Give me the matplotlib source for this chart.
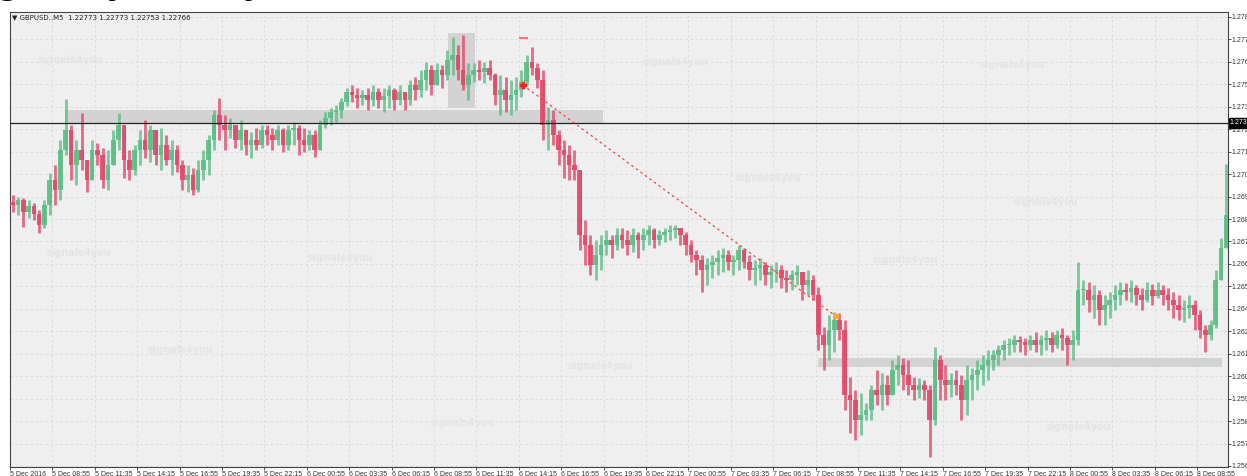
import numpy as np
import matplotlib
matplotlib.use("Agg")
import matplotlib.pyplot as plt

# GBPUSD M5 candles, aggregated (pips above 1.2500)
first_open = 187
highs = [190.5, 189.5, 189, 188, 186.5, 183, 188, 201.5, 205.5, 218, 238.5, 225.5, 218, 231.5, 208, 218, 216.5, 214, 213, 223,
         231.5, 215.5, 213, 215.5, 223, 228, 225.5, 220.5, 224, 220.5, 218, 215.5, 208, 205.5, 204, 208, 213, 220.5, 233, 239,
         230.5, 229, 225.5, 228, 223, 222, 224, 225.5, 225.5, 224, 225.5, 224, 225.5, 227, 225.5, 224, 223, 223, 228, 232,
         234, 235.5, 239, 244, 245.5, 244, 243, 244, 245.5, 244, 244, 245.5, 244, 245.5, 242, 248, 249.5, 253, 257, 255.5,
         256.5, 255.5, 263, 269.5, 265.5, 270.5, 256.5, 256.5, 258, 257, 258, 251.5, 250.5, 249.5, 248, 249.5, 253, 260.5, 264.5, 256.5,
         253, 234.5, 233, 223, 218, 215.5, 213, 203, 178, 170.5, 168, 170.5, 173, 170.5, 174, 174, 173, 174, 172, 174,
         175.5, 174, 173, 174, 175.5, 175.5, 174, 172, 168, 163, 160.5, 159, 160.5, 163, 164, 163, 160.5, 165.5, 164, 160.5,
         158, 159, 157, 155.5, 157, 155.5, 153, 153, 155.5, 152, 153, 150.5, 144.5, 124.5, 130.5, 132, 131.5, 128, 99.5, 93,
         91.5, 86.5, 95.5, 103, 101.5, 100.5, 108, 110.5, 109, 108, 99.5, 99, 98, 95.5, 114.5, 110.5, 105.5, 101.5, 103, 100.5,
         105.5, 104, 108, 110.5, 113, 113, 115.5, 118, 119, 120.5, 120, 119, 120.5, 122, 120.5, 123, 122, 123, 124, 120.5,
         123, 157, 148, 147, 145.5, 143, 140.5, 142, 145.5, 147, 146.5, 148, 145.5, 144, 147, 146, 147, 145.5, 144, 142,
         140.5, 138, 140.5, 138, 133, 125.5, 128, 153, 169, 206]
lows = [182, 180.5, 174.5, 179, 178, 171.5, 174, 180.5, 185.5, 188, 210.5, 198, 195.5, 203, 192, 199, 205.5, 194, 193, 205.5,
        213, 199, 198, 200.5, 205.5, 209, 207, 205.5, 203, 205.5, 200.5, 202, 193, 192, 190.5, 192, 198, 200.5, 213, 218,
        213, 219, 214, 213, 210.5, 209, 213, 214, 215.5, 213, 215.5, 212, 213, 215.5, 210.5, 212, 213, 209.5, 213, 224,
        225.5, 227, 229, 235, 237, 234, 235.5, 233, 235, 234, 232, 234, 233, 235.5, 233, 235.5, 238, 239.5, 243, 240.5,
        245.5, 244, 248, 250.5, 248, 243, 238, 247, 248, 246.5, 248, 235.5, 230.5, 232, 230.5, 233, 239.5, 245.5, 250.5, 244,
        218, 213, 215.5, 205.5, 199, 198, 198, 163, 155.5, 150.5, 148, 153, 160.5, 159, 163, 164, 160.5, 162, 159, 163,
        165.5, 164, 165.5, 167, 168, 169, 165.5, 160.5, 157, 150.5, 142, 145.5, 149, 150.5, 152, 153, 150.5, 153, 154, 148,
        145.5, 148, 145.5, 144, 147, 144, 142, 143, 145.5, 138, 140.5, 138, 113, 103, 108, 112, 118, 83, 71.5, 68,
        70.5, 78, 78, 85.5, 83, 85.5, 90.5, 95.5, 93, 90.5, 88, 89, 88, 59.5, 75.5, 88, 88, 89.5, 90.5, 78,
        80.5, 88, 93, 95.5, 98, 103, 105.5, 108, 110.5, 112, 112, 110.5, 113, 112, 110.5, 113, 112, 114, 113, 105.5,
        108, 115.5, 135.5, 132, 129, 125.5, 125.5, 129, 133, 135.5, 138, 137, 135.5, 133, 137, 135.5, 139, 135.5, 133, 129,
        128, 127, 129, 123, 119, 112, 118, 124, 154, 168]
closes = [185.5, 188, 182, 185, 181, 175.5, 185.5, 198, 193, 213, 223, 205.5, 213, 208, 198, 213, 210.5, 198, 205.5, 218,
          225.5, 208, 203, 213, 218, 213, 223, 210.5, 215.5, 208, 213, 205.5, 198, 200.5, 193, 203, 208, 218, 230.5, 225.5,
          223, 225.5, 218, 223, 215.5, 218, 215.5, 223, 220.5, 218, 223, 215.5, 223, 224, 218, 215.5, 220.5, 213, 225.5, 229,
          232, 233, 237, 242, 240.5, 239, 240.5, 238, 242, 238, 240, 243, 238, 242, 238, 245.5, 243, 248, 253, 245.5,
          253, 250.5, 258, 260.5, 253, 245.5, 250.5, 253, 252, 254, 250.5, 240.5, 243, 238, 240.5, 243, 247, 257, 254, 248,
          225.5, 228, 220.5, 213, 210.5, 205.5, 203, 170.5, 165.5, 155.5, 160.5, 165.5, 168, 165.5, 170.5, 168, 165.5, 170.5, 168, 170.5,
          173, 168, 170.5, 172, 173, 174, 170.5, 165.5, 160.5, 158, 153, 155.5, 157, 159, 160.5, 157, 158, 163, 157, 153,
          154, 155.5, 150.5, 152, 153, 149, 148, 150.5, 152, 145.5, 148, 140.5, 120.5, 115.5, 123, 128, 123, 90.5, 88, 78,
          80.5, 83, 93, 90.5, 95.5, 90.5, 103, 105.5, 100.5, 95.5, 93, 95.5, 93, 78, 108, 98, 95.5, 98, 95.5, 88,
          98, 100.5, 103, 105.5, 108, 110.5, 113, 115.5, 115.5, 118, 117, 115.5, 118, 115.5, 118, 119, 115.5, 120.5, 119, 115.5,
          118, 143, 143, 138, 140.5, 133, 135.5, 138, 140.5, 143, 142, 144, 140.5, 138, 143, 140, 143, 140.5, 138, 135.5,
          133, 134, 135.5, 130.5, 123, 120.5, 125.5, 148, 164, 180.5]

y_tick_labels = ["1.278", "1.277", "1.276", "1.275", "1.273", "1.272", "1.271", "1.270", "1.269", "1.268", "1.267",
                 "1.266", "1.265", "1.264", "1.262", "1.261", "1.260", "1.259", "1.258", "1.257", "1.256"]
x_tick_labels = ["5 Dec 2016", "5 Dec 08:55", "5 Dec 11:35", "5 Dec 14:15", "5 Dec 16:55", "5 Dec 19:35", "5 Dec 22:15",
                 "6 Dec 00:55", "6 Dec 03:35", "6 Dec 06:15", "6 Dec 08:55", "6 Dec 11:35", "6 Dec 14:15", "6 Dec 16:55",
                 "6 Dec 19:35", "6 Dec 22:15", "7 Dec 00:55", "7 Dec 03:35", "7 Dec 06:15", "7 Dec 08:55", "7 Dec 11:35",
                 "7 Dec 14:15", "7 Dec 16:55", "7 Dec 19:35", "7 Dec 22:15", "8 Dec 00:55", "8 Dec 03:35", "8 Dec 06:15",
                 "8 Dec 08:55"]

# zones (bar index range, price range in pips)
zones = [((41.5, 447.5), (226, 233)), ((330.5, 351), (234, 271.5)), ((610, 915), (104.5, 109))]
last_price = 226.5
trend_line = ((387, 245.5), (623, 130))

watermarks = [(70, 60), (675, 62), (1012, 65), (768, 178), (1045, 202), (78, 253), (340, 258), (905, 260),
              (180, 350), (600, 366), (462, 423), (1078, 427)]


def main():
    fig = plt.figure(figsize=(12.47, 4.76), dpi=100, facecolor="white")
    ax = fig.add_axes([10 / 1247, 9 / 476, 1218 / 1247, 455 / 476])
    ax.set_facecolor("#efefef")

    bars_per_candle = 4
    n = len(closes)
    c = np.array(closes, float)
    o = np.array([first_open] + closes[:-1], float)
    h = np.maximum(np.array(highs, float), np.maximum(o, c))
    l = np.minimum(np.array(lows, float), np.minimum(o, c))
    x = np.arange(n) * bars_per_candle + 2

    up = c >= o
    cols = np.where(up, "#5cbd85", "#e2486a")
    ax.vlines(x, l, h, colors=cols, lw=2.0, alpha=0.8, zorder=3)
    body = np.where(np.abs(c - o) < 0.5, 0.5, c - o)
    ax.bar(x, body, bottom=o, width=3.5, color=cols, alpha=0.9, zorder=3, linewidth=0)

    for (x0, x1), (y0, y1) in zones:
        ax.fill_between([x0, x1], y0, y1, color="#d3d3d3", zorder=2, lw=0)

    ax.axhline(last_price, color="#222222", lw=0.9, zorder=4)

    (tx0, ty0), (tx1, ty1) = trend_line
    ax.plot([tx0, tx1], [ty0, ty1], color="#ff4040", lw=0.9, ls=(0, (2, 2.5)), zorder=5)
    ax.plot([tx0], [ty0], marker="P", color="#ff2020", ms=4, zorder=6)
    ax.plot([tx1], [ty1], marker="s", color="#ffaa33", ms=2.5, zorder=6)
    ax.plot([385, 390], [269, 269], color="#ff7070", lw=1.5, zorder=6)

    for wx, wy in watermarks:
        ax.text((wx - 10) / 1218, (467 - wy) / 455, "signals4you", transform=ax.transAxes,
                fontsize=7, fontweight="bold", color="#e4e4e4", ha="center", va="center", zorder=1)

    ax.set_xlim(0, 919.2)
    ax.set_ylim(54.5, 282)

    yticks = [279.5 - 11.225 * k for k in range(len(y_tick_labels))]
    ax.yaxis.tick_right()
    ax.set_yticks(yticks)
    ax.set_yticklabels(y_tick_labels, family="Liberation Sans")
    xticks = [32 * k for k in range(len(x_tick_labels))]
    ax.set_xticks(xticks)
    ax.set_xticklabels(x_tick_labels, ha="left", family="Liberation Sans")
    ax.tick_params(axis="both", labelsize=5, colors="#333333", length=2, width=0.6, pad=0.6)

    ax.grid(True, color="#d9d9d9", ls=(0, (3, 3)), lw=0.6, zorder=0)
    ax.set_axisbelow(True)
    for s in ax.spines.values():
        s.set_color("#444444")
        s.set_linewidth(0.8)

    ax.annotate("1.273", xy=(1.0, last_price), xycoords=("axes fraction", "data"),
                xytext=(1.2, 0), textcoords="offset points", fontsize=5, family="Liberation Sans",
                color="white", va="center", ha="left",
                bbox=dict(boxstyle="square,pad=0.15", fc="black", ec="black"))

    ax.text(0.002, 0.995, "\u25bc GBPUSD..M5  1.22773 1.22773 1.22753 1.22766", transform=ax.transAxes,
            fontsize=5, color="#222222", va="top", ha="left", zorder=7)

    # cropped heading at the very top of the picture
    head = "Trading Analysis (Day)"
    t0 = fig.text(0, 0, "Tradin", fontsize=22, fontweight="bold")
    fig.canvas.draw()
    w = t0.get_window_extent().width
    t0.remove()
    fig.text((-2 - w) / 1247, 1 + 5 / 476, head, fontsize=22, fontweight="bold",
             color="black", va="baseline", ha="left")

    fig.savefig("out.png", dpi=100, facecolor="white")


if __name__ == "__main__":
    main()
